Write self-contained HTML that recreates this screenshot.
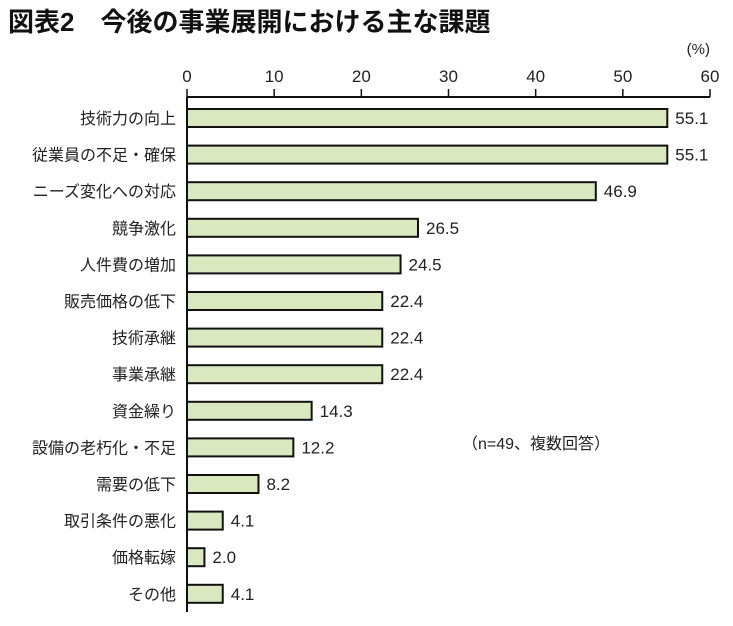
<!DOCTYPE html>
<html><head><meta charset="utf-8"><style>
body{margin:0;background:#fff;}
svg text{font-family:"Liberation Sans","Noto Sans CJK JP",sans-serif;}
</style></head><body>
<svg width="733" height="621" xmlns="http://www.w3.org/2000/svg">
<text x="8" y="31" font-size="26" font-weight="bold" fill="#111">図表2　今後の事業展開における主な課題</text>
<text x="710" y="54" font-size="15" text-anchor="end" fill="#222">(%)</text>
<text x="462" y="449" font-size="16" fill="#222">（n=49、複数回答）</text>
<g id="g"></g>
</svg>
<script>
const categories=["技術力の向上","従業員の不足・確保","ニーズ変化への対応","競争激化","人件費の増加","販売価格の低下","技術承継","事業承継","資金繰り","設備の老朽化・不足","需要の低下","取引条件の悪化","価格転嫁","その他"];
const values=[55.1,55.1,46.9,26.5,24.5,22.4,22.4,22.4,14.3,12.2,8.2,4.1,2.0,4.1];
const ticks=[0,10,20,30,40,50,60];
const g=document.getElementById('g');
const NS="http://www.w3.org/2000/svg";
const x0=187,x1=710,xmax=60,axisY=97,yFirst=118,yStep=36.6,bh=18;
const xs=v=>x0+(x1-x0)*v/xmax;
const ys=i=>yFirst+i*yStep;
function mk(t,a){const e=document.createElementNS(NS,t);for(const k in a)e.setAttribute(k,a[k]);g.appendChild(e);return e;}
let e=mk('line',{x1:x0,y1:axisY,x2:x1,y2:axisY,stroke:'#111','stroke-width':2});


e=mk('line',{x1:x0,y1:axisY,x2:x0,y2:612,stroke:'#111','stroke-width':2});


ticks.forEach(t=>{
 let l=mk('line',{x1:xs(t),y1:axisY-8,x2:xs(t),y2:axisY,stroke:'#111','stroke-width':1.5});
 
 
 let tx=mk('text',{x:xs(t),y:82,'font-size':17,'text-anchor':'middle',fill:'#222'});
 tx.textContent=t;
 
 
});
categories.forEach((c,i)=>{
 const y=ys(i);
 let r=mk('rect',{x:x0,y:y-bh/2,width:xs(values[i])-x0,height:bh,fill:'#d9e8be',stroke:'#111','stroke-width':2});
 
 
 let lb=mk('text',{x:176,y:y+6,'font-size':16,'text-anchor':'end',fill:'#222'});
 lb.textContent=c;
 
 
 let v=mk('text',{x:xs(values[i])+8,y:y+6,'font-size':17,fill:'#222'});
 v.textContent=values[i].toFixed(1);
 
 
});
</script>
</body></html>
